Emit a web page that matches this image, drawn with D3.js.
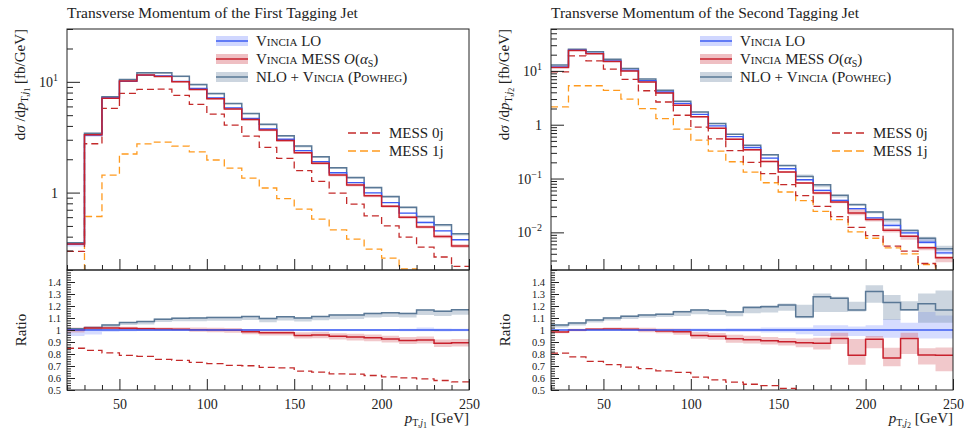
<!DOCTYPE html>
<html>
<head>
<meta charset="utf-8">
<script src="https://cdn.jsdelivr.net/npm/d3@7"></script>
<style>
  body { margin: 0; background: #fff; }
  svg { display: block; font-family: "Liberation Serif", "DejaVu Serif", serif; }
</style>
</head>
<body>
<script>
// bin edges in GeV, shared by both histograms
let binEdges = [20, 30, 40, 50, 60, 70, 80, 90, 100, 110, 120, 130, 140, 150, 160, 170, 180, 190, 200, 210, 220, 230, 240, 250]

// ---- first tagging jet, dsigma/dpT [fb/GeV]
let j1Lo = [0.343, 3.31, 7.17, 10.1, 11.5, 11.3, 10.1, 8.72, 7.17, 5.83, 4.68, 3.75, 3.03, 2.39, 1.90, 1.51, 1.23, 0.995, 0.813, 0.652, 0.537, 0.452, 0.375]
let j1Mess = [0.343, 3.33, 7.12, 10.2, 11.5, 11.2, 10.0, 8.55, 7.05, 5.7, 4.58, 3.67, 2.95, 2.29, 1.84, 1.44, 1.17, 0.934, 0.752, 0.60, 0.49, 0.402, 0.33]
let j1Nlo = [0.352, 3.43, 7.33, 10.5, 12.05, 12.05, 11.25, 9.48, 7.86, 6.39, 5.19, 4.13, 3.26, 2.63, 2.11, 1.68, 1.365, 1.11, 0.92, 0.738, 0.608, 0.512, 0.425]
let j1Mess0j = [0.294, 2.76, 5.76, 7.86, 8.54, 8.6, 7.54, 6.26, 5.12, 4.07, 3.24, 2.56, 2.04, 1.58, 1.26, 0.99, 0.786, 0.617, 0.50, 0.396, 0.322, 0.262, 0.216]
let j1Mess1j = [0.09, 0.608, 1.44, 2.23, 2.75, 2.86, 2.63, 2.33, 1.97, 1.66, 1.35, 1.10, 0.883, 0.71, 0.576, 0.461, 0.38, 0.309, 0.256, 0.205, 0.18, 0.15, 0.12]

// ratios to Vincia LO
let j1RatioMess = [1.0, 1.017, 1.017, 1.014, 1.011, 1.008, 1.006, 1.003, 1.0, 0.997, 0.986, 0.978, 0.978, 0.955, 0.958, 0.947, 0.941, 0.935, 0.924, 0.913, 0.916, 0.89, 0.893]
let j1RatioNlo = [1.011, 1.02, 1.042, 1.062, 1.07, 1.09, 1.098, 1.101, 1.104, 1.104, 1.112, 1.096, 1.11, 1.101, 1.112, 1.124, 1.126, 1.138, 1.143, 1.138, 1.166, 1.157, 1.169]
let j1Ratio0j = [0.848, 0.831, 0.809, 0.789, 0.781, 0.756, 0.747, 0.73, 0.719, 0.705, 0.702, 0.688, 0.685, 0.657, 0.649, 0.635, 0.632, 0.621, 0.61, 0.601, 0.593, 0.579, 0.567]

// relative uncertainties (down / up)
let j1LoErrDn = [0.05, 0.037, 0.015, 0.01, 0.008, 0.008, 0.008, 0.008, 0.008, 0.008, 0.008, 0.008, 0.008, 0.008, 0.008, 0.008, 0.008, 0.008, 0.008, 0.01, 0.01, 0.012, 0.01]
let j1LoErrUp = [0.012, 0.01, 0.01, 0.008, 0.008, 0.008, 0.008, 0.008, 0.008, 0.008, 0.008, 0.008, 0.008, 0.008, 0.008, 0.008, 0.008, 0.008, 0.008, 0.01, 0.02, 0.012, 0.01]
let j1MessErrDn = [0.02, 0.015, 0.012, 0.012, 0.012, 0.012, 0.015, 0.018, 0.018, 0.02, 0.022, 0.025, 0.025, 0.028, 0.028, 0.028, 0.03, 0.03, 0.03, 0.032, 0.032, 0.035, 0.035]
let j1MessErrUp = [0.02, 0.015, 0.012, 0.012, 0.012, 0.012, 0.015, 0.018, 0.018, 0.02, 0.022, 0.025, 0.025, 0.028, 0.028, 0.028, 0.03, 0.03, 0.03, 0.032, 0.032, 0.035, 0.035]
let j1NloErrDn = [0.02, 0.02, 0.02, 0.02, 0.022, 0.022, 0.022, 0.025, 0.025, 0.025, 0.025, 0.028, 0.028, 0.028, 0.028, 0.03, 0.03, 0.03, 0.03, 0.03, 0.035, 0.035, 0.035]
let j1NloErrUp = [0.005, 0.005, 0.005, 0.005, 0.005, 0.005, 0.005, 0.005, 0.005, 0.005, 0.005, 0.005, 0.005, 0.005, 0.005, 0.005, 0.005, 0.005, 0.005, 0.005, 0.005, 0.005, 0.005]

// ---- second tagging jet
let j2Lo = [11.9, 24.3, 21.1, 15.4, 10.35, 6.56, 4.05, 2.5, 1.56, 0.95, 0.603, 0.377, 0.24, 0.152, 0.095, 0.0603, 0.0393, 0.0276, 0.0186, 0.0135, 0.0098, 0.00656, 0.00417]
let j2Mess = [11.6, 24.0, 20.8, 15.0, 9.9, 6.2, 3.88, 2.3, 1.41, 0.86, 0.539, 0.341, 0.207, 0.132, 0.0826, 0.0539, 0.0367, 0.023, 0.0173, 0.0109, 0.00848, 0.00516, 0.00337]
let j2Nlo = [12.8, 25.3, 22.6, 16.5, 11.1, 7.05, 4.35, 2.72, 1.73, 1.05, 0.667, 0.417, 0.276, 0.175, 0.109, 0.0768, 0.0487, 0.0327, 0.024, 0.0173, 0.0108, 0.00778, 0.00494]
let j2Mess0j = [9.6, 19.0, 15.4, 10.8, 6.96, 4.28, 2.64, 1.5, 0.9, 0.546, 0.331, 0.199, 0.123, 0.0768, 0.048, 0.0304, 0.0196, 0.0124, 0.00873, 0.00553, 0.00447, 0.00264, 0.0019]
let j2Mess1j = [2.14, 5.3, 5.3, 4.35, 3.0, 1.99, 1.3, 0.826, 0.516, 0.323, 0.205, 0.132, 0.0836, 0.0562, 0.0388, 0.0246, 0.0173, 0.0102, 0.00778, 0.00516, 0.004, 0.00253, 0.0018]

let j2RatioMess = [0.983, 1.0, 1.006, 1.008, 1.006, 1.0, 0.992, 0.986, 0.955, 0.947, 0.927, 0.919, 0.91, 0.902, 0.893, 0.89, 0.93, 0.79, 0.922, 0.767, 0.93, 0.792, 0.79]
let j2RatioNlo = [1.042, 1.059, 1.084, 1.101, 1.115, 1.124, 1.132, 1.152, 1.166, 1.16, 1.149, 1.188, 1.194, 1.208, 1.11, 1.278, 1.264, 1.166, 1.32, 1.23, 1.169, 1.219, 1.166]
let j2Ratio0j = [0.807, 0.776, 0.738, 0.712, 0.69, 0.678, 0.66, 0.647, 0.608, 0.585, 0.565, 0.548, 0.537, 0.514, 0.49, 0.48, 0.47, 0.45, 0.46, 0.41, 0.45, 0.4, 0.4]

let j2LoErrDn = [0.005, 0.005, 0.005, 0.005, 0.006, 0.007, 0.008, 0.01, 0.012, 0.012, 0.015, 0.015, 0.02, 0.02, 0.035, 0.05, 0.05, 0.05, 0.06, 0.065, 0.06, 0.07, 0.07]
let j2LoErrUp = [0.005, 0.005, 0.005, 0.005, 0.006, 0.007, 0.008, 0.01, 0.012, 0.012, 0.015, 0.015, 0.02, 0.02, 0.02, 0.04, 0.04, 0.03, 0.04, 0.09, 0.06, 0.15, 0.12]
let j2MessErrDn = [0.01, 0.01, 0.01, 0.012, 0.015, 0.018, 0.02, 0.025, 0.03, 0.03, 0.035, 0.035, 0.035, 0.035, 0.04, 0.06, 0.05, 0.1, 0.08, 0.09, 0.14, 0.1, 0.17]
let j2MessErrUp = [0.01, 0.01, 0.01, 0.012, 0.015, 0.018, 0.02, 0.025, 0.03, 0.03, 0.035, 0.035, 0.035, 0.035, 0.04, 0.05, 0.05, 0.17, 0.03, 0.11, 0.05, 0.07, 0.08]
let j2NloErrDn = [0.02, 0.02, 0.02, 0.02, 0.02, 0.02, 0.02, 0.03, 0.03, 0.03, 0.03, 0.04, 0.04, 0.04, 0.01, 0.1, 0.09, 0.01, 0.07, 0.12, 0.01, 0.13, 0.09]
let j2NloErrUp = [0.005, 0.005, 0.005, 0.005, 0.005, 0.005, 0.005, 0.008, 0.008, 0.008, 0.008, 0.01, 0.01, 0.01, 0.09, 0.02, 0.01, 0.06, 0.04, 0.05, 0.06, 0.07, 0.14]

let colLo = "#3c5cf2", colMess = "#c8202c", colNlo = "#5a7896", col0j = "#c42a2a", col1j = "#ff9a1e"
let bandLo = "#8a9cff", bandMess = "#d8606a", bandNlo = "#8096ae"

let mainTop = 29, mainBot = 270, ratioBot = 390, plotW = 402

let svg = d3.select("body").append("svg")
    .attr("width", 964)
    .attr("height", 436)
let defs = svg.append("defs")

let panels = [
    {key: "a", x0: 67, sub: "1", title: "Transverse Momentum of the First Tagging Jet", yDomain: [0.2, 30], yLabels: [1, 10],
        lo: j1Lo, mess: j1Mess, nlo: j1Nlo, m0: j1Mess0j, m1: j1Mess1j,
        rMess: j1RatioMess, rNlo: j1RatioNlo, r0: j1Ratio0j,
        loDn: j1LoErrDn, loUp: j1LoErrUp, messDn: j1MessErrDn, messUp: j1MessErrUp, nloDn: j1NloErrDn, nloUp: j1NloErrUp},
    {key: "b", x0: 551, sub: "2", title: "Transverse Momentum of the Second Tagging Jet", yDomain: [0.002, 60], yLabels: [0.01, 0.1, 1, 10],
        lo: j2Lo, mess: j2Mess, nlo: j2Nlo, m0: j2Mess0j, m1: j2Mess1j,
        rMess: j2RatioMess, rNlo: j2RatioNlo, r0: j2Ratio0j,
        loDn: j2LoErrDn, loUp: j2LoErrUp, messDn: j2MessErrDn, messUp: j2MessErrUp, nloDn: j2NloErrDn, nloUp: j2NloErrUp}
]

function steps(vals) {
    let pts = vals.map(function (v, i) { return [binEdges[i], v] })
    pts.push([binEdges[vals.length], vals[vals.length - 1]])
    return pts
}

function bandSteps(vals, dn, up) {
    let pts = vals.map(function (v, i) { return [binEdges[i], v * (1 - dn[i]), v * (1 + up[i])] })
    let n = vals.length - 1
    pts.push([binEdges[n + 1], pts[n][1], pts[n][2]])
    return pts
}

function subLabel(t, sub, big, small) {
    t.append("tspan").style("font-style", "italic").text("p")
    t.append("tspan").attr("dy", 3).style("font-size", small + "px").text("T,")
    t.append("tspan").style("font-size", small + "px").style("font-style", "italic").text("j")
    t.append("tspan").attr("dy", 2).style("font-size", (small - 2) + "px").text(sub)
    return t
}

function supLabel(t, v) {
    if (v === 1) { t.text("1"); return }
    let e = Math.round(Math.log10(v))
    t.append("tspan").text("10")
    t.append("tspan").attr("dy", -6).style("font-size", "10px").text(e < 0 ? "\u2212" + (-e) : e)
}

panels.forEach(function (p) {
    let x = d3.scaleLinear().domain([20, 250]).range([p.x0, p.x0 + plotW])
    let y = d3.scaleLog().domain(p.yDomain).range([mainBot, mainTop])
    let yr = d3.scaleLinear().domain([0.5, 1.5]).range([ratioBot, mainBot])

    defs.append("clipPath").attr("id", "cm" + p.key).append("rect")
        .attr("x", p.x0).attr("y", mainTop).attr("width", plotW).attr("height", mainBot - mainTop)
    defs.append("clipPath").attr("id", "cr" + p.key).append("rect")
        .attr("x", p.x0).attr("y", mainBot).attr("width", plotW).attr("height", ratioBot - mainBot)

    // title
    svg.append("text").attr("x", p.x0).attr("y", 18)
        .style("font-size", "15.5px").attr("fill", "#222").text(p.title)

    // ---- main panel
    let gm = svg.append("g").attr("clip-path", "url(#cm" + p.key + ")")
    let line = d3.line().x(function (d) { return x(d[0]) }).y(function (d) { return y(d[1]) }).curve(d3.curveStepAfter)
    let area = d3.area().x(function (d) { return x(d[0]) }).y0(function (d) { return y(d[1]) }).y1(function (d) { return y(d[2]) }).curve(d3.curveStepAfter)

    gm.append("path").datum(bandSteps(p.lo, p.loDn, p.loUp)).attr("d", area).attr("fill", bandLo).attr("fill-opacity", 0.35)
    gm.append("path").datum(bandSteps(p.mess, p.messDn, p.messUp)).attr("d", area).attr("fill", bandMess).attr("fill-opacity", 0.35)
    gm.append("path").datum(bandSteps(p.nlo, p.nloDn, p.nloUp)).attr("d", area).attr("fill", bandNlo).attr("fill-opacity", 0.4)

    gm.append("path").datum(steps(p.m1)).attr("d", line).attr("fill", "none")
        .attr("stroke", col1j).attr("stroke-width", 1.3).attr("stroke-dasharray", "7,4")
    gm.append("path").datum(steps(p.m0)).attr("d", line).attr("fill", "none")
        .attr("stroke", col0j).attr("stroke-width", 1.3).attr("stroke-dasharray", "7,4")
    gm.append("path").datum(steps(p.nlo)).attr("d", line).attr("fill", "none").attr("stroke", colNlo).attr("stroke-width", 1.5)
    gm.append("path").datum(steps(p.lo)).attr("d", line).attr("fill", "none").attr("stroke", colLo).attr("stroke-width", 1.3)
    gm.append("path").datum(steps(p.mess)).attr("d", line).attr("fill", "none").attr("stroke", colMess).attr("stroke-width", 1.5)

    // log axis ticks
    let minor = y.ticks().filter(function (v) { return Math.abs(Math.log10(v) - Math.round(Math.log10(v))) > 1e-6 })
    svg.append("g").attr("transform", "translate(" + p.x0 + ",0)")
        .call(d3.axisLeft(y).tickValues(minor).tickSize(-6).tickFormat(""))
        .call(function (g) { g.select(".domain").remove() })
        .selectAll("line").attr("stroke", "#222")
    svg.append("g").attr("transform", "translate(" + p.x0 + ",0)")
        .call(d3.axisLeft(y).tickValues(p.yLabels).tickSize(-13).tickFormat(""))
        .call(function (g) { g.select(".domain").remove() })
        .selectAll("line").attr("stroke", "#222")
    p.yLabels.forEach(function (v) {
        let t = svg.append("text").attr("x", p.x0 - 9).attr("y", y(v) + 5)
            .attr("text-anchor", "end").style("font-size", "14px").attr("fill", "#222")
        supLabel(t, v)
    })

    // x ticks on main bottom and ratio bottom
    let xMinor = binEdges.filter(function (v) { return v % 50 !== 0 })
    let xMajor = [50, 100, 150, 200, 250]
    ;[mainBot, ratioBot].forEach(function (yy, k) {
        svg.append("g").attr("transform", "translate(0," + yy + ")")
            .call(d3.axisBottom(x).tickValues(xMinor).tickSize(-5).tickFormat(""))
            .call(function (g) { g.select(".domain").remove() })
            .selectAll("line").attr("stroke", "#222")
        let ga = svg.append("g").attr("transform", "translate(0," + yy + ")")
            .call(d3.axisBottom(x).tickValues(xMajor).tickSize(-11).tickPadding(9)
                .tickFormat(k === 1 ? function (d) { return d } : ""))
            .call(function (g) { g.select(".domain").remove() })
        ga.selectAll("line").attr("stroke", "#222")
        ga.selectAll("text").style("font-size", "14px").style("font-family", "Liberation Serif").attr("fill", "#222")
    })

    // ---- ratio panel
    let gr = svg.append("g").attr("clip-path", "url(#cr" + p.key + ")")
    let rline = d3.line().x(function (d) { return x(d[0]) }).y(function (d) { return yr(d[1]) }).curve(d3.curveStepAfter)
    let rarea = d3.area().x(function (d) { return x(d[0]) }).y0(function (d) { return yr(d[1]) }).y1(function (d) { return yr(d[2]) }).curve(d3.curveStepAfter)
    let ones = p.lo.map(function () { return 1 })

    gr.append("path").datum(bandSteps(ones, p.loDn, p.loUp)).attr("d", rarea).attr("fill", bandLo).attr("fill-opacity", 0.35)
    gr.append("path").datum(bandSteps(p.rMess, p.messDn, p.messUp)).attr("d", rarea).attr("fill", bandMess).attr("fill-opacity", 0.35)
    gr.append("path").datum(bandSteps(p.rNlo, p.nloDn, p.nloUp)).attr("d", rarea).attr("fill", bandNlo).attr("fill-opacity", 0.4)

    gr.append("path").datum(steps(p.r0)).attr("d", rline).attr("fill", "none")
        .attr("stroke", col0j).attr("stroke-width", 1.3).attr("stroke-dasharray", "7,4")
    gr.append("path").datum(steps(p.rNlo)).attr("d", rline).attr("fill", "none").attr("stroke", colNlo).attr("stroke-width", 1.5)
    gr.append("path").datum(steps(p.rMess)).attr("d", rline).attr("fill", "none").attr("stroke", colMess).attr("stroke-width", 1.5)
    gr.append("path").datum(steps(ones)).attr("d", rline).attr("fill", "none").attr("stroke", colLo).attr("stroke-width", 1.3)

    let rMajor = [0.5, 0.6, 0.7, 0.8, 0.9, 1.0, 1.1, 1.2, 1.3, 1.4]
    let rMinor = yr.ticks(50).filter(function (v) { return Math.abs(v * 10 - Math.round(v * 10)) > 1e-6 })
    svg.append("g").attr("transform", "translate(" + p.x0 + ",0)")
        .call(d3.axisLeft(yr).tickValues(rMinor).tickSize(-4).tickFormat(""))
        .call(function (g) { g.select(".domain").remove() })
        .selectAll("line").attr("stroke", "#222")
    let gra = svg.append("g").attr("transform", "translate(" + p.x0 + ",0)")
        .call(d3.axisLeft(yr).tickValues(rMajor).tickSize(-8).tickPadding(6)
            .tickFormat(function (d) { return d3.format("~g")(d) }))
        .call(function (g) { g.select(".domain").remove() })
    gra.selectAll("line").attr("stroke", "#222")
    gra.selectAll("text").style("font-size", "10.5px").style("font-family", "Liberation Serif").attr("fill", "#222")

    // frames
    svg.append("rect").attr("x", p.x0).attr("y", mainTop).attr("width", plotW).attr("height", mainBot - mainTop)
        .attr("fill", "none").attr("stroke", "#222").attr("stroke-width", 1)
    svg.append("rect").attr("x", p.x0).attr("y", mainBot).attr("width", plotW).attr("height", ratioBot - mainBot)
        .attr("fill", "none").attr("stroke", "#222").attr("stroke-width", 1)

    // axis labels
    let lx = p.x0 - 42
    let yl = svg.append("text").attr("transform", "translate(" + lx + "," + mainTop + ") rotate(-90)")
        .attr("text-anchor", "end").style("font-size", "15px").attr("fill", "#222")
    yl.append("tspan").text("d")
    yl.append("tspan").style("font-style", "italic").text("\u03c3")
    yl.append("tspan").text(" /d")
    subLabel(yl, p.sub, 15, 10)
    yl.append("tspan").attr("dy", -5).text("  [fb/GeV]")

    svg.append("text").attr("transform", "translate(" + (lx + 1) + "," + ((mainBot + ratioBot) / 2) + ") rotate(-90)")
        .attr("text-anchor", "middle").style("font-size", "15px").attr("fill", "#222").text("Ratio")

    let xl = svg.append("text").attr("x", p.x0 + plotW).attr("y", 423)
        .attr("text-anchor", "end").style("font-size", "15px").attr("fill", "#222")
    subLabel(xl, p.sub, 15, 10)
    xl.append("tspan").attr("dy", -5).text(" [GeV]")

    // ---- legends
    let lg = svg.append("g").attr("transform", "translate(" + (p.x0 + 149) + ",0)")
    let rows = [
        {y: 41, c: colLo, b: bandLo},
        {y: 59, c: colMess, b: bandMess},
        {y: 77, c: colNlo, b: bandNlo}
    ]
    rows.forEach(function (r) {
        lg.append("rect").attr("x", 0).attr("y", r.y - 5).attr("width", 32).attr("height", 10)
            .attr("fill", r.b).attr("fill-opacity", 0.4)
        lg.append("line").attr("x1", 0).attr("x2", 32).attr("y1", r.y).attr("y2", r.y)
            .attr("stroke", r.c).attr("stroke-width", 1.5)
    })
    let t1 = lg.append("text").attr("x", 40).attr("y", 46).style("font-size", "15px").attr("fill", "#222")
    t1.append("tspan").style("font-variant", "small-caps").text("Vincia")
    t1.append("tspan").text(" LO")
    let t2 = lg.append("text").attr("x", 40).attr("y", 64).style("font-size", "15px").attr("fill", "#222")
    t2.append("tspan").style("font-variant", "small-caps").text("Vincia")
    t2.append("tspan").text(" MESS ")
    t2.append("tspan").style("font-style", "italic").text("O")
    t2.append("tspan").text("(")
    t2.append("tspan").style("font-style", "italic").text("\u03b1")
    t2.append("tspan").attr("dy", 3).style("font-size", "10px").text("S")
    t2.append("tspan").attr("dy", -3).text(")")
    let t3 = lg.append("text").attr("x", 40).attr("y", 82).style("font-size", "15px").attr("fill", "#222")
    t3.append("tspan").text("NLO + ")
    t3.append("tspan").style("font-variant", "small-caps").text("Vincia")
    t3.append("tspan").text(" (")
    t3.append("tspan").style("font-variant", "small-caps").text("Powheg")
    t3.append("tspan").text(")")

    let lg2 = svg.append("g").attr("transform", "translate(" + (p.x0 + 281) + ",0)")
    ;[{y: 133, c: col0j, t: "MESS 0j"}, {y: 151, c: col1j, t: "MESS 1j"}].forEach(function (r) {
        lg2.append("line").attr("x1", 0).attr("x2", 33).attr("y1", r.y).attr("y2", r.y)
            .attr("stroke", r.c).attr("stroke-width", 1.3).attr("stroke-dasharray", "8,4")
        lg2.append("text").attr("x", 41).attr("y", r.y + 5).style("font-size", "15px").attr("fill", "#222").text(r.t)
    })
})
</script>
</body>
</html>
